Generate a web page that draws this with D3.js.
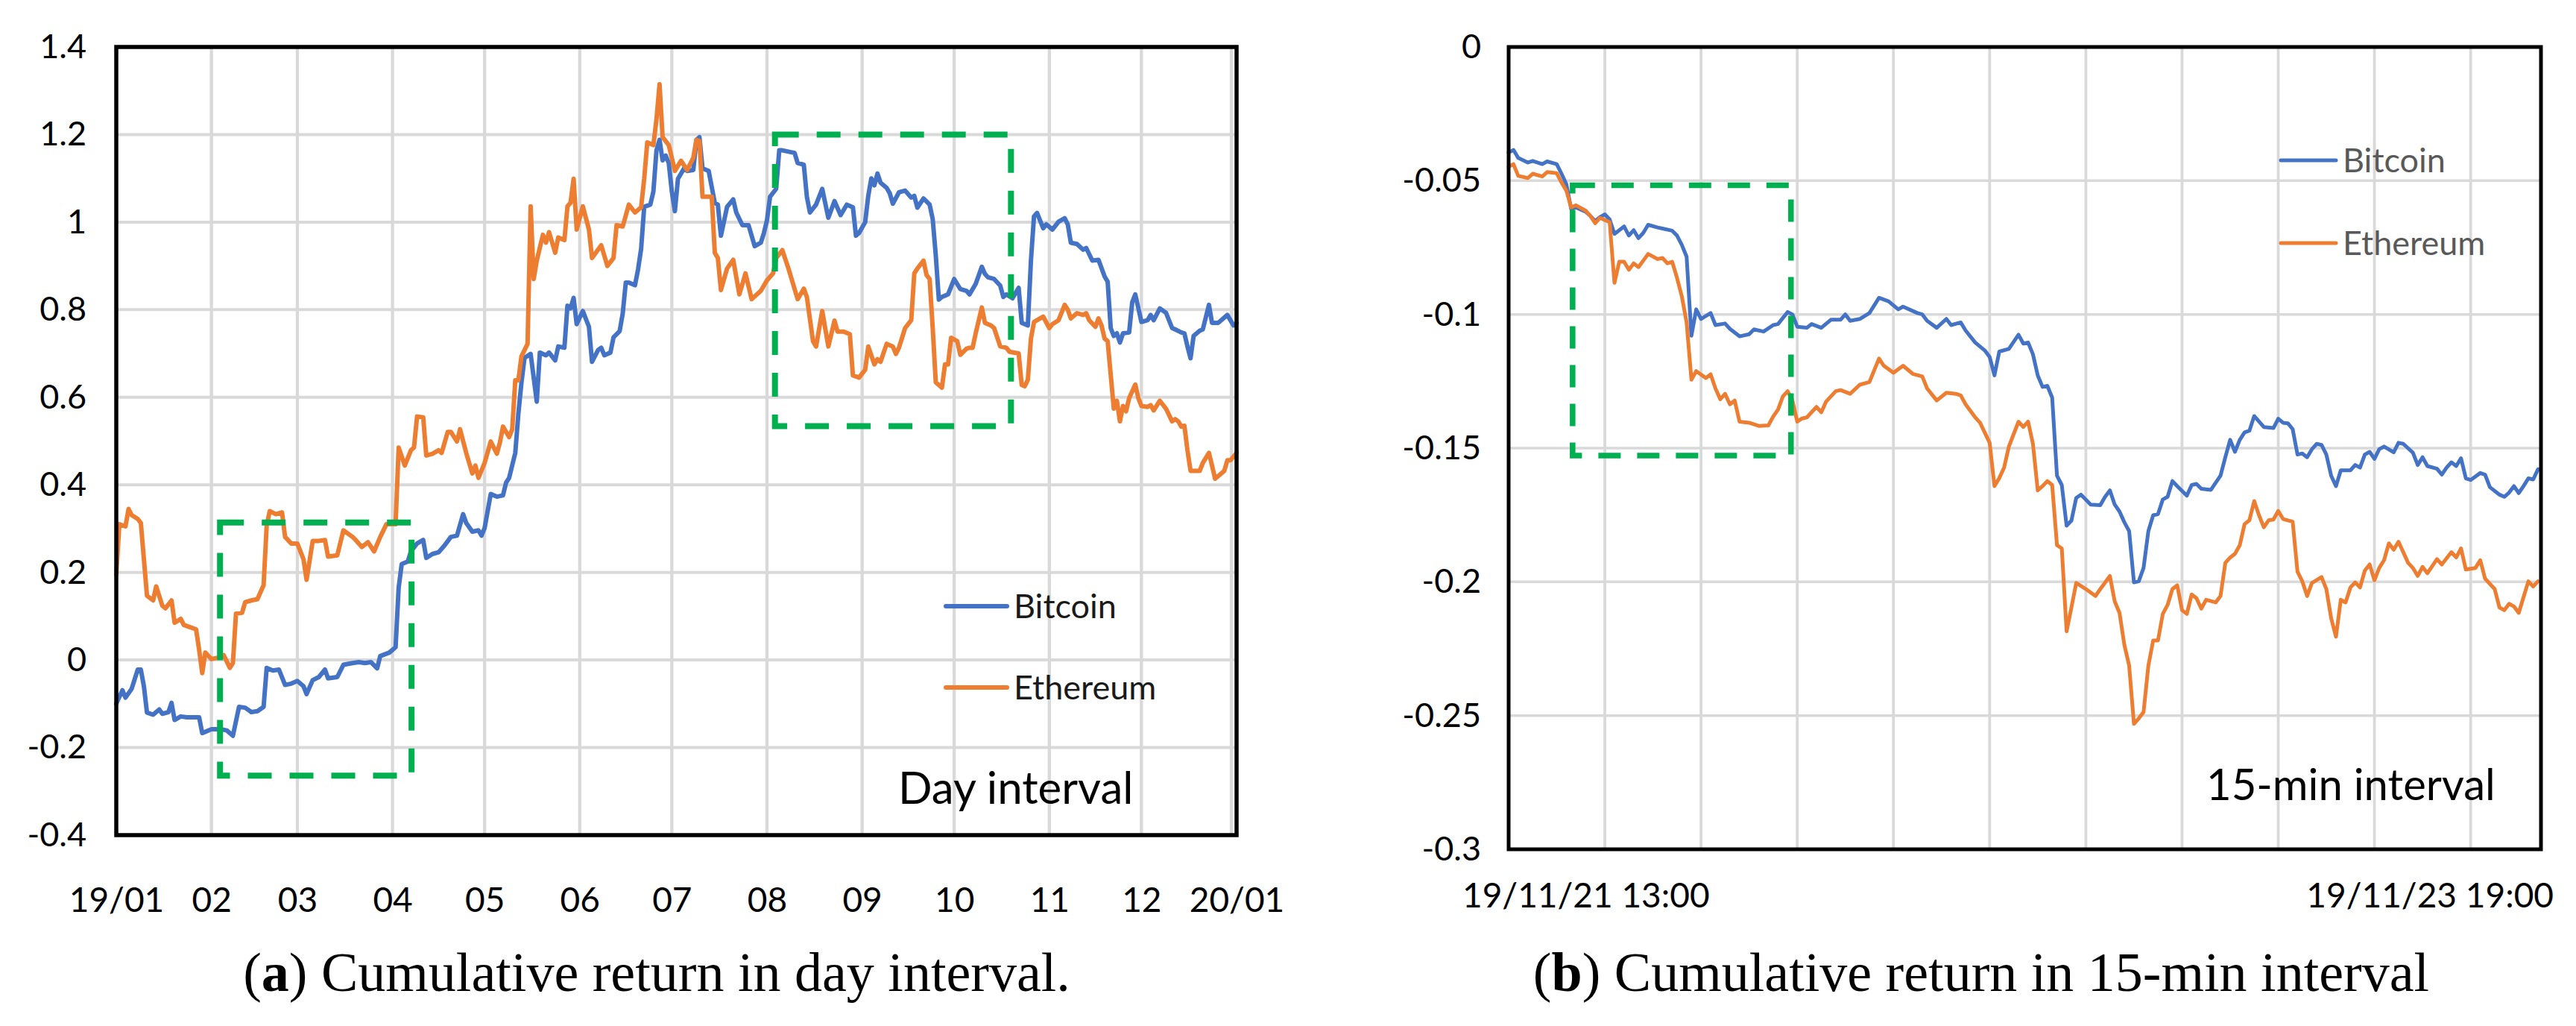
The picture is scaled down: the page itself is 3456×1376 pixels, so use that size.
<!DOCTYPE html>
<html>
<head>
<meta charset="utf-8">
<script src="https://cdnjs.cloudflare.com/ajax/libs/d3/7.8.5/d3.min.js"></script>
<style>
  body { margin: 0; background: #fff; overflow: hidden; }
  text { font-family: Lato, "Open Sans", sans-serif; }
</style>
</head>
<body>
<script>
// ---- data: panel (a), day interval, [day of 2019, cumulative return] ----
var btcDaily = [
  [0,-0.10],[2,-0.069],[3,-0.086],[5,-0.066],[7,-0.022],[8,-0.022],[9,-0.06],[10,-0.12],[12,-0.125],
  [14,-0.113],[15,-0.123],[17,-0.119],[18,-0.098],[19,-0.137],[21,-0.129],[23,-0.131],[27,-0.131],
  [28,-0.167],[31,-0.158],[34,-0.158],[36,-0.161],[38,-0.173],[40,-0.107],[42,-0.109],[44,-0.119],
  [46,-0.117],[48,-0.107],[49,-0.018],[51,-0.024],[53,-0.022],[55,-0.057],[57,-0.054],[59,-0.048],
  [61,-0.06],[62,-0.078],[64,-0.046],[66,-0.039],[68,-0.022],[69,-0.042],[72,-0.039],[74,-0.011],
  [77,-0.007],[79,-0.005],[81,-0.007],[83,-0.005],[85,-0.019],[86,0.009],[89,0.017],[91,0.029],
  [92,0.165],[93,0.219],[95,0.225],[96,0.248],[98,0.266],[100,0.274],[101,0.233],[103,0.242],
  [105,0.246],[107,0.262],[109,0.281],[111,0.284],[113,0.333],[114,0.313],[116,0.293],[118,0.296],
  [119,0.284],[120,0.301],[122,0.379],[124,0.373],[126,0.376],[127,0.405],[128,0.416],[130,0.473],
  [131,0.562],[132,0.633],[133,0.69],[135,0.699],[137,0.59],[138,0.702],[140,0.696],[141,0.702],
  [143,0.684],[144,0.716],[146,0.713],[147,0.809],[148,0.803],[149,0.827],[150,0.767],[152,0.797],
  [154,0.761],[155,0.681],[157,0.708],[158,0.713],[159,0.696],[161,0.702],[162,0.737],[164,0.751],
  [165,0.791],[166,0.862],[167,0.862],[169,0.856],[170,0.892],[171,0.939],[172,1.035],[174,1.04],
  [175,1.07],[176,1.164],[177,1.188],[178,1.141],[179,1.152],[180,1.135],[181,1.07],[182,1.025],
  [183,1.099],[185,1.123],[186,1.117],[188,1.119],[189,1.188],[190,1.194],[191,1.123],[193,1.117],
  [195,1.044],[196,1.04],[197,0.969],[199,1.035],[201,1.052],[202,1.022],[204,0.993],[206,0.993],
  [208,0.945],[210,0.953],[211,0.975],[212,1.004],[213,1.058],[215,1.076],[216,1.164],[217,1.164],
  [221,1.158],[222,1.135],[224,1.131],[225,1.058],[226,1.022],[228,1.04],[230,1.076],[232,1.01],
  [234,1.048],[236,1.016],[238,1.04],[240,1.034],[241,0.969],[242,0.975],[244,1.0],[245,1.06],
  [246,1.10],[247,1.084],[248,1.111],[249,1.09],[251,1.078],[252,1.066],[253,1.042],[255,1.068],
  [257,1.072],[259,1.056],[260,1.06],[261,1.033],[263,1.054],[265,1.04],[266,1.007],[267,0.924],
  [268,0.823],[269,0.829],[271,0.835],[273,0.87],[275,0.847],[277,0.843],[278,0.835],[280,0.859],
  [282,0.898],[283,0.882],[284,0.874],[286,0.87],[288,0.855],[289,0.829],[290,0.835],[292,0.826],
  [294,0.85],[295,0.77],[297,0.764],[298,0.912],[299,1.013],[300,1.021],[302,0.986],[303,0.995],
  [305,0.983],[307,1.001],[309,1.009],[310,0.995],[311,0.953],[313,0.95],[315,0.937],[316,0.941],
  [318,0.912],[320,0.914],[322,0.876],[323,0.864],[324,0.758],[325,0.74],[326,0.746],[327,0.725],
  [328,0.746],[330,0.748],[331,0.817],[332,0.835],[334,0.772],[336,0.776],[337,0.788],[338,0.776],
  [340,0.803],[342,0.793],[344,0.758],[345,0.755],[347,0.748],[348,0.746],[349,0.716],[350,0.689],
  [351,0.74],[353,0.752],[354,0.755],[356,0.811],[357,0.77],[359,0.77],[360,0.776],[362,0.788],
  [364,0.764],[365,0.77]
];
var ethDaily = [
  [0,0.195],[1,0.31],[3,0.305],[4,0.345],[5,0.331],[7,0.322],[8,0.313],[10,0.147],[12,0.136],
  [13,0.168],[15,0.124],[16,0.118],[18,0.136],[19,0.085],[21,0.094],[22,0.08],[26,0.07],[27,0.023],
  [28,-0.03],[29,0.017],[31,0.002],[33,0.005],[35,0.011],[37,-0.018],[38,-0.007],[39,0.106],
  [41,0.108],[42,0.132],[44,0.136],[46,0.139],[48,0.171],[49,0.307],[50,0.34],[52,0.333],[54,0.337],
  [55,0.281],[57,0.266],[59,0.266],[61,0.23],[62,0.183],[64,0.272],[66,0.272],[68,0.274],[69,0.236],
  [72,0.239],[74,0.296],[77,0.281],[78,0.274],[80,0.258],[82,0.269],[84,0.248],[86,0.281],[88,0.31],
  [91,0.31],[92,0.485],[94,0.444],[96,0.479],[97,0.485],[98,0.556],[100,0.554],[101,0.467],
  [103,0.471],[105,0.479],[106,0.473],[108,0.521],[109,0.521],[111,0.499],[112,0.527],[114,0.473],
  [116,0.426],[117,0.444],[118,0.416],[120,0.45],[122,0.499],[124,0.471],[125,0.497],[126,0.533],
  [128,0.509],[129,0.527],[130,0.639],[131,0.639],[132,0.693],[134,0.722],[135,1.036],[136,0.87],
  [137,0.912],[139,0.971],[140,0.953],[141,0.977],[143,0.93],[144,0.965],[146,0.959],[147,1.036],
  [148,1.044],[149,1.099],[150,0.983],[152,1.036],[154,0.983],[155,0.918],[158,0.947],[160,0.9],
  [162,0.918],[163,0.993],[165,0.99],[167,1.04],[169,1.022],[171,1.034],[172,1.099],[173,1.182],
  [175,1.176],[176,1.235],[177,1.315],[178,1.194],[180,1.176],[182,1.117],[184,1.14],[186,1.119],
  [188,1.147],[189,1.188],[190,1.185],[191,1.058],[194,1.058],[195,0.93],[196,0.918],[197,0.845],
  [199,0.894],[201,0.914],[203,0.835],[205,0.883],[207,0.824],[210,0.843],[212,0.867],[214,0.883],
  [215,0.918],[217,0.936],[219,0.894],[222,0.824],[224,0.848],[225,0.829],[227,0.728],[228,0.716],
  [230,0.797],[232,0.716],[234,0.775],[235,0.75],[237,0.75],[239,0.744],[240,0.65],[242,0.645],
  [244,0.663],[245,0.716],[247,0.675],[248,0.687],[249,0.681],[251,0.722],[253,0.716],[254,0.699],
  [255,0.713],[257,0.758],[259,0.776],[260,0.883],[261,0.894],[263,0.912],[264,0.879],[265,0.87],
  [266,0.758],[267,0.634],[269,0.622],[270,0.675],[271,0.675],[272,0.736],[274,0.728],[275,0.697],
  [277,0.711],[278,0.713],[279,0.713],[280,0.746],[282,0.805],[283,0.77],[285,0.764],[286,0.758],
  [288,0.716],[290,0.713],[291,0.704],[294,0.70],[295,0.628],[296,0.625],[297,0.64],[298,0.734],
  [299,0.772],[300,0.776],[302,0.784],[304,0.758],[305,0.767],[307,0.776],[309,0.811],[310,0.8],
  [311,0.78],[313,0.792],[315,0.788],[316,0.792],[317,0.776],[319,0.761],[320,0.78],[321,0.764],
  [322,0.734],[323,0.728],[324,0.651],[325,0.574],[326,0.592],[327,0.545],[328,0.58],[329,0.568],
  [330,0.598],[332,0.629],[333,0.598],[334,0.58],[336,0.578],[337,0.582],[338,0.57],[340,0.592],
  [342,0.574],[344,0.545],[345,0.55],[346,0.545],[347,0.533],[348,0.535],[349,0.479],[350,0.432],
  [353,0.432],[354,0.45],[356,0.473],[357,0.444],[358,0.414],[360,0.426],[361,0.432],[362,0.456],
  [363,0.456],[365,0.473]
];
var dayTicks = [-0.4,-0.2,0,0.2,0.4,0.6,0.8,1,1.2,1.4];
// highlighted windows: [from day, to day, low, high]
var dayBoxes = [[33.8,96.2,-0.264,0.314],[214.6,291.5,0.534,1.2]];

// ---- data: panel (b), 15-min interval, [step from 19/11/21 13:00, cumulative return] ----
var btcQuarter = [
  [0,-0.0395],[1,-0.0385],[2,-0.0415],[4,-0.0432],[5,-0.0426],[7,-0.0438],[8,-0.0428],[10,-0.0438],
  [11,-0.0474],[12,-0.0513],[13,-0.0606],[14,-0.06],[16,-0.0616],[17,-0.0632],[18,-0.0651],[19,-0.0636],
  [20,-0.0626],[21,-0.0645],[22,-0.0699],[23,-0.0685],[24,-0.0671],[25,-0.0705],[26,-0.0685],[27,-0.0715],
  [28,-0.0695],[29,-0.0665],[31,-0.0675],[32,-0.0679],[34,-0.0687],[35,-0.0705],[36,-0.074],[37,-0.0784],
  [38,-0.108],[39,-0.0981],[40,-0.1017],[42,-0.0995],[43,-0.104],[45,-0.1034],[46,-0.1054],[48,-0.1082],
  [50,-0.1074],[51,-0.1056],[53,-0.1064],[55,-0.104],[56,-0.1036],[58,-0.0991],[59,-0.1],[60,-0.1046],
  [62,-0.105],[63,-0.1036],[65,-0.105],[67,-0.102],[69,-0.102],[70,-0.1],[71,-0.1024],[73,-0.1017],
  [75,-0.0995],[77,-0.0938],[79,-0.0951],[81,-0.0981],[82,-0.0971],[85,-0.0995],[86,-0.1],[87,-0.1024],
  [89,-0.105],[91,-0.1017],[92,-0.104],[94,-0.103],[95,-0.106],[97,-0.1105],[99,-0.1135],[100,-0.1159],
  [101,-0.1228],[102,-0.1139],[104,-0.1129],[106,-0.1076],[107,-0.1109],[108,-0.1105],[109,-0.1149],
  [110,-0.1228],[111,-0.1271],[112,-0.1267],[113,-0.1311],[114,-0.1603],[115,-0.1638],[116,-0.179],
  [117,-0.1771],[118,-0.1686],[119,-0.1674],[121,-0.1711],[123,-0.1713],[124,-0.1682],[125,-0.1658],
  [126,-0.1711],[127,-0.1737],[128,-0.1777],[129,-0.181],[130,-0.2002],[131,-0.1998],[132,-0.1948],
  [133,-0.181],[134,-0.1751],[135,-0.1747],[136,-0.1692],[137,-0.1682],[138,-0.1623],[139,-0.1642],
  [141,-0.1678],[142,-0.1638],[143,-0.1634],[144,-0.1652],[146,-0.1656],[148,-0.1603],[149,-0.1534],
  [150,-0.1469],[151,-0.1514],[152,-0.1469],[153,-0.1441],[154,-0.1435],[155,-0.138],[157,-0.1421],
  [159,-0.1425],[160,-0.139],[161,-0.1405],[162,-0.1407],[163,-0.1429],[164,-0.1524],[165,-0.152],
  [166,-0.1534],[167,-0.1504],[168,-0.1484],[169,-0.1488],[170,-0.1524],[171,-0.1603],[172,-0.1642],
  [173,-0.1583],[175,-0.1583],[176,-0.1563],[177,-0.1573],[178,-0.1524],[179,-0.1514],[180,-0.154],
  [181,-0.1504],[182,-0.1494],[184,-0.1516],[185,-0.148],[186,-0.1484],[188,-0.1517],[189,-0.1563],
  [190,-0.1534],[191,-0.1567],[193,-0.1577],[194,-0.1599],[195,-0.1573],[196,-0.1553],[197,-0.1567],
  [198,-0.1538],[199,-0.1613],[200,-0.1619],[202,-0.1593],[203,-0.1599],[204,-0.1646],[206,-0.1674],
  [207,-0.1682],[208,-0.1666],[209,-0.1642],[210,-0.1668],[211,-0.1642],[212,-0.1613],[213,-0.1617],
  [214,-0.1579]
];
var ethQuarter = [
  [0,-0.0448],[1,-0.0438],[2,-0.0482],[4,-0.049],[5,-0.0474],[7,-0.0484],[8,-0.0468],[10,-0.0472],
  [11,-0.0507],[12,-0.0537],[13,-0.06],[14,-0.0592],[16,-0.0612],[17,-0.0632],[18,-0.0659],[19,-0.0639],
  [21,-0.0655],[22,-0.0882],[23,-0.0803],[24,-0.0803],[25,-0.0833],[26,-0.0809],[27,-0.0823],[29,-0.0774],
  [31,-0.0793],[32,-0.0789],[33,-0.0809],[34,-0.0803],[35,-0.0863],[36,-0.0932],[37,-0.103],[38,-0.1244],
  [39,-0.1212],[41,-0.1238],[42,-0.1224],[43,-0.1277],[44,-0.1317],[45,-0.1297],[46,-0.1336],[47,-0.1322],
  [48,-0.1401],[50,-0.1405],[52,-0.1417],[54,-0.1415],[55,-0.1382],[56,-0.1356],[57,-0.1307],[58,-0.1287],
  [59,-0.1322],[60,-0.1401],[61,-0.1389],[62,-0.1385],[64,-0.1346],[65,-0.1366],[66,-0.1326],[68,-0.1287],
  [69,-0.1283],[71,-0.1297],[73,-0.1263],[75,-0.1253],[77,-0.1165],[78,-0.1192],[80,-0.1218],[82,-0.1192],
  [84,-0.1222],[86,-0.1232],[87,-0.1277],[89,-0.1322],[91,-0.1293],[93,-0.1297],[94,-0.1303],[95,-0.1336],
  [97,-0.1385],[98,-0.1405],[100,-0.148],[101,-0.1642],[102,-0.1612],[103,-0.1573],[104,-0.1494],
  [106,-0.1401],[107,-0.1421],[108,-0.1401],[109,-0.1484],[110,-0.1658],[111,-0.1642],[112,-0.1623],
  [113,-0.1638],[114,-0.1863],[115,-0.1875],[116,-0.2185],[117,-0.2096],[118,-0.2004],[120,-0.2027],
  [122,-0.2053],[123,-0.2027],[125,-0.1978],[126,-0.2073],[127,-0.2116],[128,-0.2235],[129,-0.2313],
  [130,-0.2531],[131,-0.2511],[132,-0.2487],[133,-0.2313],[134,-0.2219],[135,-0.2219],[136,-0.212],
  [137,-0.2086],[138,-0.2027],[139,-0.2013],[140,-0.2106],[141,-0.212],[142,-0.2047],[143,-0.2061],
  [144,-0.21],[145,-0.2067],[147,-0.2077],[148,-0.2053],[149,-0.1929],[150,-0.1909],[151,-0.1895],
  [152,-0.1863],[153,-0.1784],[154,-0.177],[155,-0.1698],[156,-0.1751],[157,-0.1796],[158,-0.177],
  [159,-0.1767],[160,-0.1735],[161,-0.1765],[163,-0.1775],[164,-0.1962],[165,-0.1998],[166,-0.2053],
  [167,-0.2004],[169,-0.1982],[170,-0.2027],[171,-0.2136],[172,-0.2205],[173,-0.2067],[174,-0.2077],
  [175,-0.2021],[176,-0.2002],[177,-0.2021],[178,-0.1958],[179,-0.1935],[180,-0.1994],[181,-0.1948],
  [182,-0.1919],[183,-0.1856],[184,-0.188],[185,-0.185],[187,-0.1929],[188,-0.1948],[189,-0.1978],
  [190,-0.1944],[191,-0.1968],[193,-0.1915],[194,-0.1935],[196,-0.1889],[197,-0.1909],[198,-0.1875],
  [199,-0.1954],[201,-0.1948],[202,-0.1919],[203,-0.1988],[205,-0.2027],[206,-0.2096],[207,-0.2106],
  [208,-0.2082],[209,-0.2092],[210,-0.2116],[211,-0.2057],[212,-0.1998],[213,-0.2017],[214,-0.1998]
];
var quarterTicks = [-0.3,-0.25,-0.2,-0.15,-0.1,-0.05,0];
var quarterLabels = ["19/11/21 13:00", "19/11/23 19:00"];
var quarterBoxes = [[13.3,58.7,-0.1528,-0.0517]];

var seriesNames = ["Bitcoin", "Ethereum"];
var seriesColors = ["#4472C4", "#ED7D31"];

// ---- svg ----
var svgWidth = 3456;
var svgHeight = 1376;

var svg = d3.select("body")
  .append("svg")
  .attr("width", svgWidth)
  .attr("height", svgHeight);

svg.append("rect").attr("width", svgWidth).attr("height", svgHeight).attr("fill", "#fff");

var fmt = d => String(+d.toFixed(2));

// ================= panel (a) =================
var aBox = {left: 156, right: 1659, top: 63, bottom: 1120};
var yearStart = new Date(2019, 0, 1);
var dayDate = d => new Date(yearStart.getTime() + d * 864e5);

var xDay = d3.scaleTime()
  .domain([yearStart, new Date(2020, 0, 1)])
  .range([aBox.left, aBox.right]);
var yDay = d3.scaleLinear()
  .domain([-0.4, 1.4])
  .range([aBox.bottom, aBox.top]);

var gA = svg.append("g");

// gridlines
gA.selectAll(".hgrid").data(dayTicks.slice(1, -1)).enter().append("line")
  .attr("x1", aBox.left).attr("x2", aBox.right)
  .attr("y1", d => yDay(d)).attr("y2", d => yDay(d))
  .attr("stroke", "#d9d9d9").attr("stroke-width", 4);
var months = d3.timeMonth.range(new Date(2019, 1, 1), new Date(2020, 0, 2));
gA.selectAll(".vgrid").data(months).enter().append("line")
  .attr("x1", d => xDay(d) - (d.getFullYear() === 2020 ? 7 : 0))
  .attr("x2", d => xDay(d) - (d.getFullYear() === 2020 ? 7 : 0))
  .attr("y1", aBox.top).attr("y2", aBox.bottom)
  .attr("stroke", "#d9d9d9").attr("stroke-width", 4.3);

// axes (labels only)
var leftAxisA = d3.axisLeft(yDay).tickValues(dayTicks).tickSize(0).tickPadding(40).tickFormat(fmt);
var axA = gA.append("g").attr("transform", `translate(${aBox.left},0)`).call(leftAxisA);
axA.select(".domain").remove();
axA.selectAll("text").attr("font-size", 45).attr("fill", "#000").attr("font-family", "Lato");

var monthTicks = d3.timeMonth.range(yearStart, new Date(2020, 0, 2));
var bottomAxisA = d3.axisBottom(xDay).tickValues(monthTicks).tickSize(0).tickPadding(70)
  .tickFormat(d => d.getMonth() === 0 ? d3.timeFormat("%y/%m")(d) : d3.timeFormat("%m")(d));
var axAb = gA.append("g").attr("transform", `translate(0,${aBox.bottom})`).call(bottomAxisA);
axAb.select(".domain").remove();
axAb.selectAll("text").attr("font-size", 46).attr("fill", "#000").attr("font-family", "Lato");

// lines
var lineA = d3.line().x(d => xDay(dayDate(d[0]))).y(d => yDay(d[1]));
[btcDaily, ethDaily].forEach(function(s, i) {
  gA.append("path").attr("d", lineA(s))
    .attr("fill", "none").attr("stroke", seriesColors[i])
    .attr("stroke-width", 6).attr("stroke-linejoin", "round").attr("stroke-linecap", "round");
});

// highlight boxes
gA.selectAll(".hl").data(dayBoxes).enter().append("rect")
  .attr("x", d => xDay(dayDate(d[0])))
  .attr("y", d => yDay(d[3]))
  .attr("width", d => xDay(dayDate(d[1])) - xDay(dayDate(d[0])))
  .attr("height", d => yDay(d[2]) - yDay(d[3]))
  .attr("fill", "none").attr("stroke", "#00B050")
  .attr("stroke-width", 8).attr("stroke-dasharray", "32,24");

// legend
seriesNames.forEach(function(name, i) {
  var ly = 813 + i * 109;
  gA.append("line").attr("x1", 1269).attr("x2", 1351).attr("y1", ly).attr("y2", ly)
    .attr("stroke", seriesColors[i]).attr("stroke-width", 6).attr("stroke-linecap", "round");
  gA.append("text").attr("x", 1360).attr("y", ly + 16).attr("font-size", 45)
    .attr("fill", "#1a1a1a").text(name);
});
gA.append("text").attr("x", 1205).attr("y", 1078).attr("font-size", 60)
  .attr("fill", "#000").text("Day interval");

// frame
gA.append("rect").attr("x", aBox.left).attr("y", aBox.top)
  .attr("width", aBox.right - aBox.left).attr("height", aBox.bottom - aBox.top)
  .attr("fill", "none").attr("stroke", "#000").attr("stroke-width", 5.5);

// ================= panel (b) =================
var bBox = {left: 2024, right: 3409, top: 63, bottom: 1139};
var xIdx = d3.scaleLinear().domain([0, 214]).range([bBox.left, bBox.right - 4]);
var yQ = d3.scaleLinear().domain([-0.3, 0]).range([bBox.bottom, bBox.top]);

var gB = svg.append("g");

gB.selectAll(".hgrid").data(quarterTicks.slice(1, -1)).enter().append("line")
  .attr("x1", bBox.left).attr("x2", bBox.right)
  .attr("y1", d => yQ(d)).attr("y2", d => yQ(d))
  .attr("stroke", "#d9d9d9").attr("stroke-width", 3.5);
gB.selectAll(".vgrid").data(d3.range(20, 214, 20)).enter().append("line")
  .attr("x1", d => xIdx(d)).attr("x2", d => xIdx(d))
  .attr("y1", bBox.top).attr("y2", bBox.bottom)
  .attr("stroke", "#d9d9d9").attr("stroke-width", 3.8);

var leftAxisB = d3.axisLeft(yQ).tickValues(quarterTicks).tickSize(0).tickPadding(37).tickFormat(fmt);
var axB = gB.append("g").attr("transform", `translate(${bBox.left},0)`).call(leftAxisB);
axB.select(".domain").remove();
axB.selectAll("text").attr("font-size", 45).attr("fill", "#000").attr("font-family", "Lato");

gB.append("text").attr("x", 1962).attr("y", 1217).attr("font-size", 46)
  .attr("fill", "#000").text(quarterLabels[0]);
gB.append("text").attr("x", 3426).attr("y", 1217).attr("font-size", 46)
  .attr("text-anchor", "end").attr("fill", "#000").text(quarterLabels[1]);

var lineB = d3.line().x(d => xIdx(d[0])).y(d => yQ(d[1]));
[btcQuarter, ethQuarter].forEach(function(s, i) {
  gB.append("path").attr("d", lineB(s))
    .attr("fill", "none").attr("stroke", seriesColors[i])
    .attr("stroke-width", 5).attr("stroke-linejoin", "round").attr("stroke-linecap", "round");
});

gB.selectAll(".hl").data(quarterBoxes).enter().append("rect")
  .attr("x", d => xIdx(d[0]))
  .attr("y", d => yQ(d[3]))
  .attr("width", d => xIdx(d[1]) - xIdx(d[0]))
  .attr("height", d => yQ(d[2]) - yQ(d[3]))
  .attr("fill", "none").attr("stroke", "#00B050")
  .attr("stroke-width", 7.5).attr("stroke-dasharray", "30,22");

seriesNames.forEach(function(name, i) {
  var ly = 215 + i * 111;
  gB.append("line").attr("x1", 3060).attr("x2", 3134).attr("y1", ly).attr("y2", ly)
    .attr("stroke", seriesColors[i]).attr("stroke-width", 5).attr("stroke-linecap", "round");
  gB.append("text").attr("x", 3143).attr("y", ly + 16).attr("font-size", 45)
    .attr("fill", "#595959").text(name);
});
gB.append("text").attr("x", 2960).attr("y", 1073).attr("font-size", 58)
  .attr("fill", "#000").text("15-min interval");

gB.append("rect").attr("x", bBox.left).attr("y", bBox.top)
  .attr("width", bBox.right - bBox.left).attr("height", bBox.bottom - bBox.top)
  .attr("fill", "none").attr("stroke", "#000").attr("stroke-width", 5);

// ================= captions =================
function caption(cx, letter, rest) {
  var t = svg.append("text").attr("x", cx).attr("y", 1329).attr("text-anchor", "middle")
    .attr("font-size", 74).attr("fill", "#000")
    .style("font-family", '"Liberation Serif", "DejaVu Serif", serif');
  t.append("tspan").text("(");
  t.append("tspan").attr("font-weight", "bold").text(letter);
  t.append("tspan").text(") " + rest);
}
caption(881, "a", "Cumulative return in day interval.");
caption(2658, "b", "Cumulative return in 15-min interval");
</script>
</body>
</html>
